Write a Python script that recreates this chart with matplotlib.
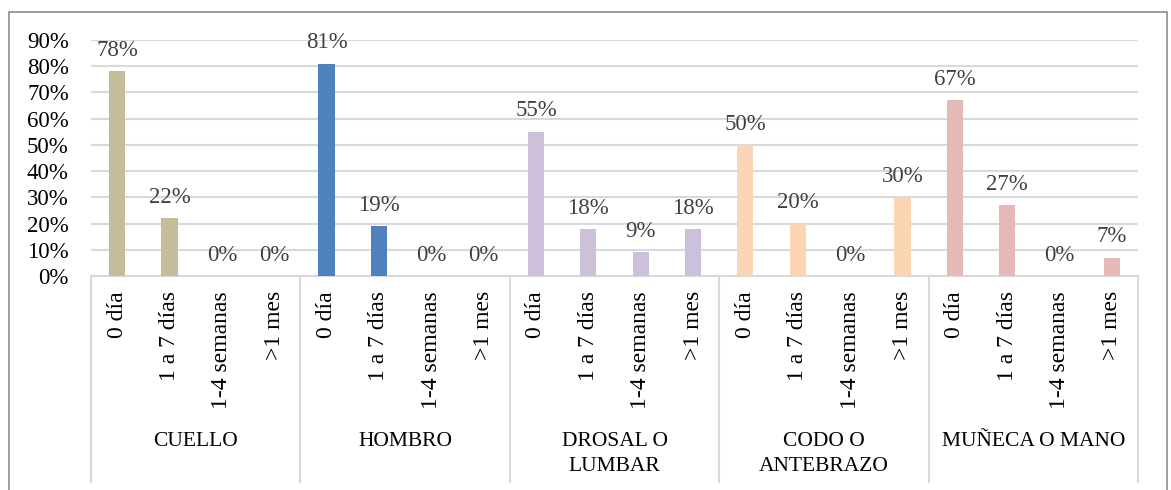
import matplotlib.pyplot as plt
from matplotlib.patches import Rectangle

# data
groups = ['CUELLO', 'HOMBRO', 'DROSAL O\nLUMBAR', 'CODO O\nANTEBRAZO', 'MUÑECA O MANO']
periods = ['0 día', '1 a 7 días', '1-4 semanas', '>1 mes']
cuello = [78, 22, 0, 0]
hombro = [81, 19, 0, 0]
drosal = [55, 18, 9, 18]
codo = [50, 20, 0, 30]
muneca = [67, 27, 0, 7]
colors = ['#C4BD97', '#4F81BD', '#CCC0DA', '#FCD5B5', '#E6B9B8']
yticks = [0, 10, 20, 30, 40, 50, 60, 70, 80, 90]

plt.rcParams['font.family'] = ['Liberation Serif', 'DejaVu Serif']

W, H = 1171, 490
fig = plt.figure(figsize=(W / 100, H / 100), dpi=100)

# outer chart border
fig.patches.append(Rectangle((9 / W, -0.05), (1167 - 9) / W, (H - 12) / H + 0.05,
                             transform=fig.transFigure, fill=False,
                             edgecolor='#8C8C8C', linewidth=1.2))

left, right = 91 / W, 1138 / W
bottom, top = (H - 276) / H, (H - 40) / H
ax = fig.add_axes([left, bottom, right - left, top - bottom])

n_per = len(periods)
all_vals = [cuello, hombro, drosal, codo, muneca]
for g, (vals, col) in enumerate(zip(all_vals, colors)):
    xs = [g * n_per + i + 0.5 for i in range(n_per)]
    ax.bar(xs, vals, width=0.31, color=col, zorder=3)
    for x, v in zip(xs, vals):
        ax.annotate(f'{v}%', (x, v), xytext=(0, 11), textcoords='offset points',
                    ha='center', va='baseline', fontsize=16.5, color='#404040')

ax.set_xlim(0, len(groups) * n_per)
ax.set_ylim(0, 90)
ax.set_yticks(yticks)
ax.set_yticklabels([f'{t}%' for t in yticks], fontsize=16.5)
ax.yaxis.grid(True, color='#D9D9D9', linewidth=1.5, zorder=0)
ax.tick_params(axis='y', length=0, pad=16)
ax.tick_params(axis='x', length=0, labelbottom=False)
for s in ['top', 'right', 'left']:
    ax.spines[s].set_visible(False)
ax.spines['bottom'].set_color('#D9D9D9')
ax.spines['bottom'].set_linewidth(1.5)

# multi-level category axis
ax_h = 276 - 40
sep_bot = -(482 - 276) / ax_h
lbl_top = -(291 - 276) / ax_h
grp_y = -(432 - 276) / ax_h
trans = ax.get_xaxis_transform()
for g in range(len(groups) + 1):
    ax.plot([g * n_per, g * n_per], [0, sep_bot], transform=trans,
            color='#D9D9D9', linewidth=1.5, clip_on=False)
for g, name in enumerate(groups):
    for i, p in enumerate(periods):
        ax.text(g * n_per + i + 0.5, lbl_top, p, transform=trans, rotation=90,
                ha='center', va='top', fontsize=17)
    ax.text(g * n_per + n_per / 2, grp_y, name, transform=trans,
            ha='center', va='top', fontsize=15.5, linespacing=1.45)

fig.savefig('out.png', dpi=100)
